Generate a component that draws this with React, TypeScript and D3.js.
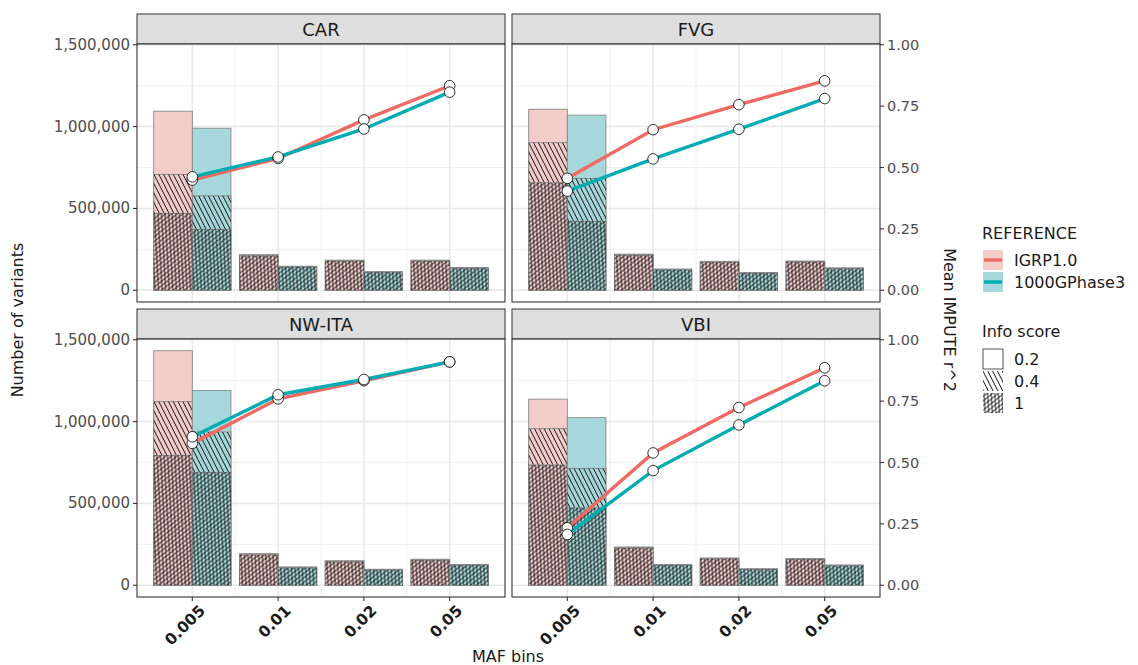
import React from 'react';
import * as d3 from 'd3';

const regions = ['CAR', 'FVG', 'NW-ITA', 'VBI'];
const mafBins = ['0.005', '0.01', '0.02', '0.05'];
const references = ['IGRP1.0', '1000GPhase3'];
const infoScores = ['0.2', '0.4', '1'];

// variant counts per region (rows) and MAF bin (cols), by info score threshold
const igrpInfo02 = [
  [1094000, 218000, 184000, 184000],
  [1106000, 221000, 177000, 179000],
  [1433000, 193000, 150000, 159000],
  [1137000, 234000, 167000, 164000],
];
const igrpInfo04 = [
  [708000, 213000, 181000, 181000],
  [902000, 217000, 174000, 176000],
  [1122000, 190000, 147000, 156000],
  [957000, 230000, 164000, 161000],
];
const igrpInfo1 = [
  [470000, 209000, 178000, 178000],
  [657000, 213000, 171000, 173000],
  [794000, 186000, 144000, 153000],
  [735000, 226000, 161000, 158000],
];
const kgInfo02 = [
  [990000, 147000, 114000, 139000],
  [1070000, 130000, 109000, 137000],
  [1190000, 112000, 98000, 127000],
  [1024000, 127000, 101000, 124000],
];
const kgInfo04 = [
  [577000, 145000, 112000, 137000],
  [684000, 127000, 107000, 135000],
  [937000, 110000, 96000, 125000],
  [714000, 125000, 99000, 122000],
];
const kgInfo1 = [
  [372000, 142000, 110000, 134000],
  [422000, 124000, 105000, 132000],
  [690000, 107000, 94000, 122000],
  [473000, 122000, 97000, 119000],
];

// mean IMPUTE r^2 per region and MAF bin
const igrpR2 = [
  [0.449, 0.537, 0.694, 0.833],
  [0.456, 0.654, 0.756, 0.853],
  [0.578, 0.759, 0.833, 0.91],
  [0.234, 0.539, 0.724, 0.886],
];
const kgR2 = [
  [0.462, 0.543, 0.657, 0.807],
  [0.404, 0.535, 0.656, 0.781],
  [0.605, 0.776, 0.838, 0.91],
  [0.207, 0.467, 0.653, 0.833],
];

const leftTicks = [0, 500000, 1000000, 1500000];
const rightTicks = [0, 0.25, 0.5, 0.75, 1];
const secScale = 1500000;

const barFill = ['#F4CDCB', '#A6D8DB'];
const lineColor = ['#EE6A62', '#00ACB4'];
const font = 'DejaVu Sans, sans-serif';

const panels = [
  { x0: 137, x1: 505, y0: 14 },
  { x0: 512, x1: 880, y0: 14 },
  { x0: 137, x1: 505, y0: 309 },
  { x0: 512, x1: 880, y0: 309 },
];
const stripH = 30;
const plotH = 258;

const counts = [
  [igrpInfo02, igrpInfo04, igrpInfo1],
  [kgInfo02, kgInfo04, kgInfo1],
];
const r2 = [igrpR2, kgR2];

const yMax = d3.max([
  ...[...igrpInfo02, ...kgInfo02].flat(),
  ...[...igrpR2, ...kgR2].flat().map((v) => v * secScale),
]) as number;

const patternIds = [null, 'pat-stripe', 'pat-cross'];

function Panel({ p, idx }: { p: (typeof panels)[0]; idx: number }) {
  const top = p.y0 + stripH;
  const bottom = top + plotH;
  const x = d3.scaleLinear().domain([0.355, 4.645]).range([p.x0, p.x1]);
  const y = d3.scaleLinear().domain([-0.05 * yMax, 1.05 * yMax]).range([bottom, top]);
  const isLeft = idx % 2 === 0;
  const isBottom = idx >= 2;
  const minorY = [250000, 750000, 1250000];
  const minorX = [1.5, 2.5, 3.5];
  const line = d3
    .line<number>()
    .x((_, i) => x(i + 1))
    .y((v) => y(v * secScale));

  return (
    <g>
      {/* strip */}
      <rect x={p.x0} y={p.y0} width={p.x1 - p.x0} height={stripH} fill="#DEDEDE" stroke="#333" strokeWidth={1} />
      <text x={(p.x0 + p.x1) / 2} y={p.y0 + stripH / 2 + 6.5} textAnchor="middle" fontSize={18} fill="#1A1A1A">
        {regions[idx]}
      </text>
      {/* grid */}
      {minorY.map((v) => (
        <line key={'my' + v} x1={p.x0} x2={p.x1} y1={y(v)} y2={y(v)} stroke="#F0F0F0" strokeWidth={1} />
      ))}
      {minorX.map((v) => (
        <line key={'mx' + v} x1={x(v)} x2={x(v)} y1={top} y2={bottom} stroke="#F0F0F0" strokeWidth={1} />
      ))}
      {leftTicks.map((v) => (
        <line key={'gy' + v} x1={p.x0} x2={p.x1} y1={y(v)} y2={y(v)} stroke="#E8E8E8" strokeWidth={1.5} />
      ))}
      {mafBins.map((_, i) => (
        <line key={'gx' + i} x1={x(i + 1)} x2={x(i + 1)} y1={top} y2={bottom} stroke="#E8E8E8" strokeWidth={1.5} />
      ))}
      {/* bars */}
      {references.map((_, r) =>
        mafBins.map((_, i) => {
          const bx = x(i + 1 + (r === 0 ? -0.45 : 0));
          const bw = x(1.45) - x(1);
          return (
            <g key={`b${r}-${i}`}>
              {counts[r].map((arr, k) => {
                const v = arr[idx][i];
                return (
                  <g key={k}>
                    <rect x={bx} y={y(v)} width={bw} height={y(0) - y(v)} fill={barFill[r]} stroke="#8A8A8A" strokeWidth={0.9} />
                    {patternIds[k] && (
                      <rect x={bx} y={y(v)} width={bw} height={y(0) - y(v)} fill={`url(#${patternIds[k]})`} stroke="none" />
                    )}
                  </g>
                );
              })}
            </g>
          );
        })
      )}
      {/* lines */}
      {references.map((_, r) => (
        <path key={'l' + r} d={line(r2[r][idx]) || ''} fill="none" stroke={lineColor[r]} strokeWidth={3.4} />
      ))}
      {references.map((_, r) =>
        r2[r][idx].map((v, i) => (
          <circle key={`c${r}-${i}`} cx={x(i + 1)} cy={y(v * secScale)} r={5.3} fill="#fff" stroke="#000" strokeWidth={0.8} />
        ))
      )}
      {/* border */}
      <rect x={p.x0} y={top} width={p.x1 - p.x0} height={plotH} fill="none" stroke="#333" strokeWidth={1.1} />
      {/* left axis */}
      {isLeft &&
        leftTicks.map((v) => (
          <g key={'lt' + v}>
            <line x1={p.x0 - 4} x2={p.x0} y1={y(v)} y2={y(v)} stroke="#333" strokeWidth={1.1} />
            <text x={p.x0 - 7} y={y(v) + 5} textAnchor="end" fontSize={15} fill="#4D4D4D">
              {d3.format(',')(v)}
            </text>
          </g>
        ))}
      {!isLeft &&
        rightTicks.map((v) => (
          <g key={'rt' + v}>
            <line x1={p.x1} x2={p.x1 + 4} y1={y(v * secScale)} y2={y(v * secScale)} stroke="#333" strokeWidth={1.1} />
            <text x={p.x1 + 7} y={y(v * secScale) + 5} textAnchor="start" fontSize={14.5} fill="#4D4D4D">
              {d3.format('.2f')(v)}
            </text>
          </g>
        ))}
      {isBottom &&
        mafBins.map((m, i) => (
          <g key={'bt' + m}>
            <line x1={x(i + 1)} x2={x(i + 1)} y1={bottom} y2={bottom + 4} stroke="#333" strokeWidth={1.1} />
            <text
              transform={`translate(${x(i + 1) + 6},${bottom + 7}) rotate(-45)`}
              textAnchor="end"
              dy="0.7em"
              fontSize={15.5}
              fontWeight="bold"
              fill="#1A1A1A"
            >
              {m}
            </text>
          </g>
        ))}
    </g>
  );
}

export default function App() {
  const legendX = 983;
  return (
    <svg width={1138} height={665} style={{ position: 'absolute', left: 0, top: 0, fontFamily: font }}>
      <defs>
        <pattern id="pat-stripe" width={4.3} height={4.3} patternUnits="userSpaceOnUse" patternTransform="rotate(-27)">
          <line x1={2.15} y1={0} x2={2.15} y2={4.3} stroke="#1A1A1A" strokeWidth={0.95} />
        </pattern>
        <pattern id="pat-cross" width={4} height={7.8} patternUnits="userSpaceOnUse" patternTransform="rotate(24)">
          <line x1={0} y1={0} x2={4} y2={7.8} stroke="#1A1A1A" strokeWidth={0.95} />
          <line x1={4} y1={0} x2={0} y2={7.8} stroke="#1A1A1A" strokeWidth={0.95} />
        </pattern>
      </defs>
      <rect width={1138} height={665} fill="#fff" />
      {panels.map((p, i) => (
        <Panel key={i} p={p} idx={i} />
      ))}
      {/* axis titles */}
      <text transform="translate(23,320) rotate(-90)" textAnchor="middle" fontSize={16} fill="#1A1A1A">
        Number of variants
      </text>
      <text transform="translate(944,320) rotate(90)" textAnchor="middle" fontSize={16} fill="#1A1A1A">
        Mean IMPUTE r^2
      </text>
      <text x={508} y={662} textAnchor="middle" fontSize={16} fill="#1A1A1A">
        MAF bins
      </text>
      {/* legend: reference */}
      <text x={legendX - 1} y={239} fontSize={16} fill="#1A1A1A">
        REFERENCE
      </text>
      {references.map((r, i) => (
        <g key={r}>
          <rect x={legendX} y={250 + i * 22} width={20} height={20} fill={barFill[i]} />
          <line x1={legendX + 1} x2={legendX + 19} y1={260 + i * 22} y2={260 + i * 22} stroke={lineColor[i]} strokeWidth={3.4} />
          <text x={legendX + 31} y={266 + i * 22} fontSize={16} fill="#1A1A1A">
            {r}
          </text>
        </g>
      ))}
      {/* legend: info score */}
      <text x={legendX - 1} y={337} fontSize={16} fill="#1A1A1A">
        Info score
      </text>
      {infoScores.map((s, i) => (
        <g key={s}>
          <rect
            x={legendX}
            y={349 + i * 22}
            width={20}
            height={20}
            fill={patternIds[i] ? `url(#${patternIds[i]})` : '#fff'}
            stroke={i === 0 ? '#555' : 'none'}
            strokeWidth={1}
          />
          <text x={legendX + 31} y={365 + i * 22} fontSize={16} fill="#1A1A1A">
            {s}
          </text>
        </g>
      ))}
    </svg>
  );
}
